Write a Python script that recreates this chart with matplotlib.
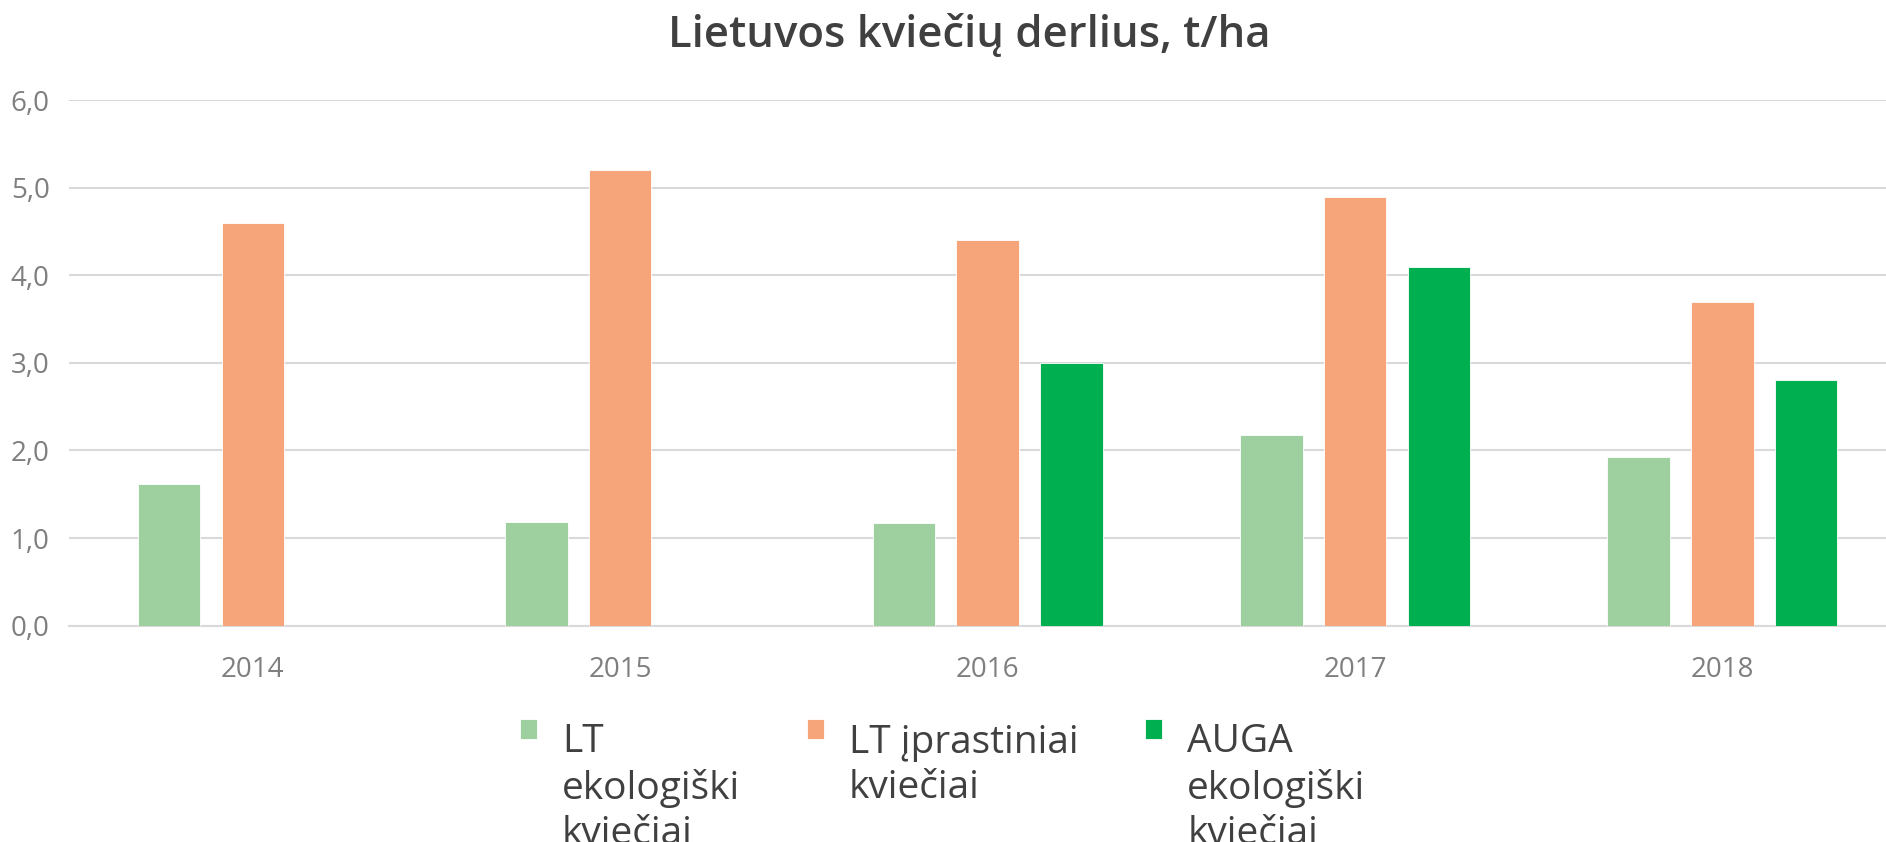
import matplotlib
matplotlib.use("Agg")
import matplotlib.pyplot as plt
from matplotlib.ticker import FuncFormatter
from matplotlib.legend_handler import HandlerPatch
from matplotlib.patches import Rectangle
import numpy as np

plt.rcParams['font.family'] = ['Open Sans', 'DejaVu Sans']

# duomenys
years = ['2014', '2015', '2016', '2017', '2018']
lt_eko = [1.62, 1.18, 1.17, 2.18, 1.92]
lt_iprast = [4.6, 5.2, 4.4, 4.9, 3.7]
auga_eko = [0, 0, 3.0, 4.1, 2.8]
series_names = ['LT\nekologiški\nkviečiai', 'LT įprastiniai\nkviečiai', 'AUGA\nekologiški\nkviečiai']
colors = ['#9DD09E', '#F6A57B', '#00AF50']

LEG_FS = 28
LEG_LS = 1.25

fig = plt.figure(figsize=(18.86, 8.42), dpi=100)
ax = fig.add_axes([0.0366, 0.257, 0.9634, 0.624])

x = np.arange(len(years))
w = 0.17
step = 0.228
bars = []
for i, (vals, name, c) in enumerate(zip([lt_eko, lt_iprast, auga_eko], series_names, colors)):
    b = ax.bar(x + (i - 1) * step, vals, width=w, color=c, label=name, zorder=3,
               edgecolor='white', linewidth=0.6)
    bars.append(b)

ax.set_ylim(0, 6)
ax.set_xlim(-0.50, 4.445)
ax.set_yticks(np.arange(0, 7, 1))
ax.yaxis.set_major_formatter(FuncFormatter(lambda v, p: f'{v:.1f}'.replace('.', ',')))
ax.set_xticks(x)
ax.set_xticklabels(years)
ax.grid(axis='y', color='#D9D9D9', linewidth=1.5, zorder=0)
for s in ['top', 'right', 'left']:
    ax.spines[s].set_visible(False)
ax.spines['bottom'].set_color('#D9D9D9')
ax.spines['bottom'].set_linewidth(1.5)
ax.tick_params(axis='both', length=0, colors='#7F7F7F', labelsize=20)
ax.tick_params(axis='x', pad=22)
ax.tick_params(axis='y', pad=14)

fig.text(0.514, 0.958, 'Lietuvos kviečių derlius, t/ha', ha='center', va='center',
         fontsize=31.5, fontweight='semibold', color='#404040')


# kvadratelis legendoj prie pirmos eilutes (visi label'ai po 3 eilutes)
def top_square(legend, orig_handle, xdescent, ydescent, width, height, fontsize):
    up = fontsize * LEG_LS + 8
    return Rectangle((-xdescent, -ydescent + up), width, height)


# legendoj visi po 3 eilutes, kad virsus sutaptu
leg_labels = [n + '\n' * (2 - n.count('\n')) for n in series_names]
handles = [b.patches[0] for b in bars]
leg = fig.legend(handles=handles, labels=leg_labels,
                 handler_map={h: HandlerPatch(patch_func=top_square) for h in handles},
                 loc='upper left', bbox_to_anchor=(0.2757, 0.141), ncol=3, frameon=False,
                 fontsize=LEG_FS, labelcolor='#404040', handlelength=0.437, handleheight=0.437,
                 handletextpad=0.64, columnspacing=1.72, borderpad=0, borderaxespad=0)
for t in leg.get_texts():
    t.set_linespacing(LEG_LS)

fig.savefig('out.png', dpi=100)
